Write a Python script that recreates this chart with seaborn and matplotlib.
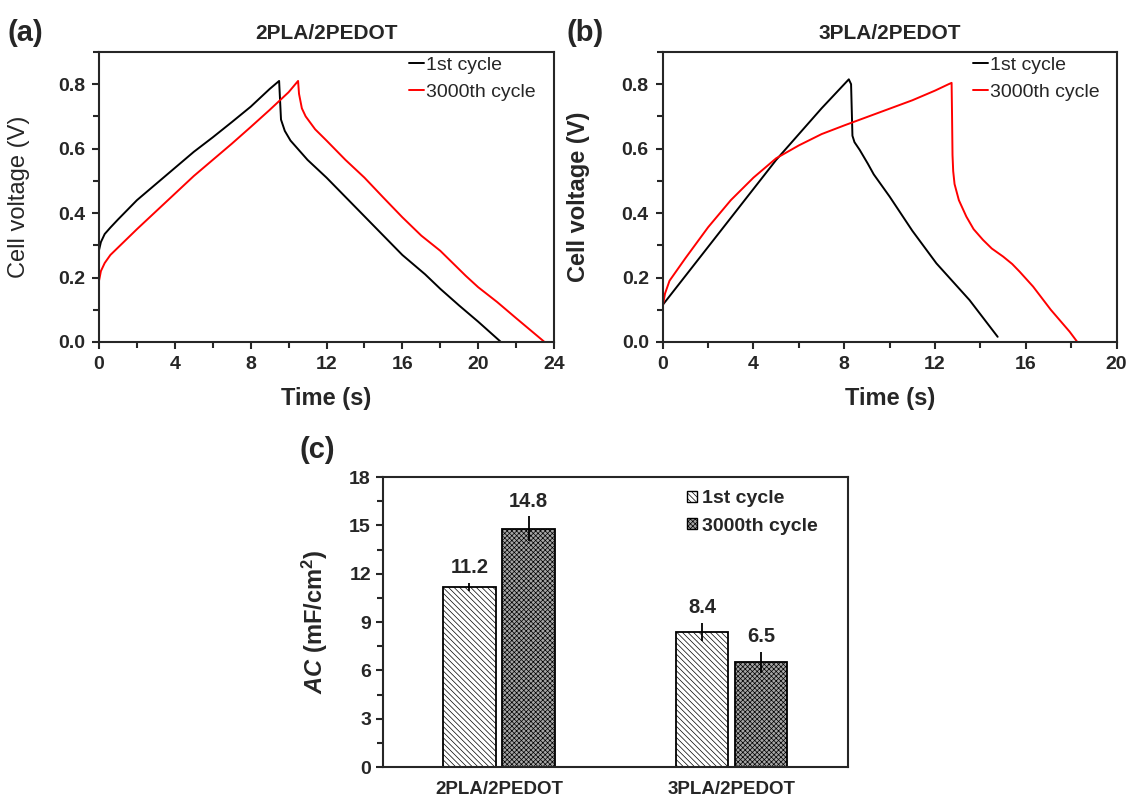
import matplotlib
matplotlib.use('Agg')
import matplotlib.pyplot as plt
import matplotlib.patches as mpatches
from matplotlib.ticker import MultipleLocator, FormatStrFormatter
import numpy as np
import pandas as pd
import seaborn as sns

# (a) 2PLA/2PEDOT  GCD curves
a_t_1st = [0, 0.1, 0.3, 0.6, 1, 2, 3, 4, 5, 6, 7, 8, 9, 9.5,
           9.55, 9.6, 9.8, 10.1, 11, 12, 13, 14, 15, 16, 17.2, 18, 19, 20, 21.2]
a_v_1st = [0.285, 0.31, 0.335, 0.355, 0.38, 0.44, 0.49, 0.54, 0.59, 0.635, 0.682, 0.73, 0.785, 0.81,
           0.75, 0.69, 0.655, 0.625, 0.565, 0.51, 0.45, 0.39, 0.33, 0.27, 0.21, 0.165, 0.113, 0.063, 0.0]
a_t_3000 = [0, 0.1, 0.3, 0.6, 1.3, 2, 3, 4, 5, 6, 7, 8, 9, 10, 10.5,
            10.55, 10.7, 10.9, 11.4, 12, 13, 14, 15, 16, 17, 18, 19.35, 20, 21, 22, 23.5]
a_v_3000 = [0.19, 0.22, 0.245, 0.27, 0.31, 0.35, 0.405, 0.46, 0.515, 0.565, 0.615, 0.667, 0.72, 0.775, 0.81,
            0.77, 0.725, 0.70, 0.66, 0.625, 0.565, 0.51, 0.448, 0.387, 0.33, 0.283, 0.205, 0.17, 0.124, 0.074, 0.0]

# (b) 3PLA/2PEDOT
b_t_1st = [0, 1, 2, 3, 4, 5, 6, 7, 8, 8.2,
           8.3, 8.36, 8.45, 8.68, 9.04, 9.3, 10.0, 11.0, 12.06, 13.52, 14.76]
b_v_1st = [0.115, 0.205, 0.295, 0.385, 0.475, 0.565, 0.645, 0.725, 0.80, 0.815,
           0.80, 0.64, 0.62, 0.596, 0.553, 0.52, 0.451, 0.345, 0.244, 0.130, 0.016]
b_t_3000 = [0, 0.1, 0.3, 1, 2, 3, 4, 5, 6, 7, 8, 9, 10, 11, 12, 12.6, 12.73,
            12.75, 12.77, 12.8, 12.86, 13.05, 13.38, 13.7, 14.11, 14.5, 15.0, 15.4, 15.73,
            16.32, 17.1, 17.93, 18.27]
b_v_3000 = [0.11, 0.15, 0.19, 0.26, 0.356, 0.44, 0.51, 0.57, 0.61, 0.645, 0.672, 0.698, 0.724, 0.75, 0.78,
            0.80, 0.804,
            0.70, 0.58, 0.53, 0.49, 0.44, 0.389, 0.35, 0.317, 0.29, 0.265, 0.242, 0.218,
            0.172, 0.10, 0.032, 0.0]

# (c) areal capacitance
groups = ['2PLA/2PEDOT', '3PLA/2PEDOT']
cycles = ['1st cycle', '3000th cycle']
ac_1st = [11.2, 8.4]
ac_3000 = [14.8, 6.5]
err_1st = [0.25, 0.55]
err_3000 = [0.75, 0.65]

sns.set_style('ticks')
plt.rcParams['font.family'] = ['Liberation Sans', 'DejaVu Sans']
plt.rcParams['mathtext.fontset'] = 'custom'
plt.rcParams['mathtext.rm'] = 'Liberation Sans:bold'
plt.rcParams['mathtext.bf'] = 'Liberation Sans:bold'
plt.rcParams['mathtext.it'] = 'Liberation Sans:italic:bold'
plt.rcParams['hatch.linewidth'] = 0.5
plt.rcParams['hatch.color'] = 'black'
plt.rcParams['axes.linewidth'] = 1.5

fig = plt.figure(figsize=(11.29, 7.99), dpi=100)
ax_a = fig.add_axes([0.0877, 0.572, 0.403, 0.363])
ax_b = fig.add_axes([0.587, 0.572, 0.402, 0.363])
ax_c = fig.add_axes([0.339, 0.040, 0.412, 0.363])

pal = {'1st cycle': 'black', '3000th cycle': '#ff0000'}


def gcd_panel(ax, t1, v1, t3, v3, title, xmax, ylab_bold, ylab_x, leg_x):
    df = pd.concat([
        pd.DataFrame({'t': t1, 'v': v1, 'cycle': '1st cycle'}),
        pd.DataFrame({'t': t3, 'v': v3, 'cycle': '3000th cycle'}),
    ])
    sns.lineplot(data=df, x='t', y='v', hue='cycle', palette=pal, sort=False,
                 estimator=None, linewidth=1.4, ax=ax)
    ax.set_xlim(0, xmax)
    ax.set_ylim(0, 0.9)
    ax.xaxis.set_major_locator(MultipleLocator(4))
    ax.xaxis.set_minor_locator(MultipleLocator(2))
    ax.set_yticks([0, 0.2, 0.4, 0.6, 0.8])
    ax.yaxis.set_minor_locator(MultipleLocator(0.1))
    ax.yaxis.set_major_formatter(FormatStrFormatter('%.1f'))
    ax.tick_params(which='both', direction='out', top=False, right=False, width=1.5)
    ax.tick_params(which='major', length=5, pad=5)
    ax.tick_params(which='minor', length=4)
    for lab in ax.get_xticklabels() + ax.get_yticklabels():
        lab.set_fontweight('bold')
        lab.set_fontsize(14)
    ax.set_xlabel('Time (s)', fontsize=17, fontweight='bold')
    ax.xaxis.set_label_coords(0.5, -0.155)
    ax.set_ylabel('Cell voltage (V)', fontsize=17,
                  fontweight='bold' if ylab_bold else 'normal')
    ax.yaxis.set_label_coords(ylab_x, 0.5)
    ax.set_title(title, fontsize=15, fontweight='bold', pad=9)
    h, l = ax.get_legend_handles_labels()
    ax.legend(h, l, loc='upper left', bbox_to_anchor=(leg_x, 0.985), frameon=False,
              handlelength=0.8, handletextpad=0.1, labelspacing=0.5, fontsize=14,
              borderpad=0, borderaxespad=0)


gcd_panel(ax_a, a_t_1st, a_v_1st, a_t_3000, a_v_3000, '2PLA/2PEDOT', 24, False, -0.152, 0.681)
gcd_panel(ax_b, b_t_1st, b_v_1st, b_t_3000, b_v_3000, '3PLA/2PEDOT', 20, True, -0.161, 0.683)

# (c) bar chart
dfc = pd.DataFrame({
    'group': groups * 2,
    'cycle': [cycles[0]] * 2 + [cycles[1]] * 2,
    'ac': ac_1st + ac_3000,
})
bar_face = {'1st cycle': 'white', '3000th cycle': '#a5a5a5'}
bar_hatch = {'1st cycle': '\\\\\\\\\\\\', '3000th cycle': 'xxxxxxx'}
errs = {'1st cycle': err_1st, '3000th cycle': err_3000}
vals = {'1st cycle': ac_1st, '3000th cycle': ac_3000}
sns.barplot(data=dfc, x='group', y='ac', hue='cycle', order=groups, hue_order=cycles,
            palette=bar_face, saturation=1, width=0.508, gap=0.11, errorbar=None,
            edgecolor='black', linewidth=1.3, legend=False, ax=ax_c)
for cont, cyc in zip(ax_c.containers, cycles):
    for bar, e, v in zip(cont, errs[cyc], vals[cyc]):
        bar.set_hatch(bar_hatch[cyc])
        bar.set_edgecolor('black')
        cx = bar.get_x() + bar.get_width() / 2
        ax_c.errorbar(cx, v, yerr=e, fmt='none', ecolor='black', elinewidth=1.3, capsize=0)
        ax_c.annotate(f'{v:.1f}', (cx, v + e), xytext=(0, 4), textcoords='offset points',
                      ha='center', va='bottom', fontsize=14.5, fontweight='bold',
                      family=['Liberation Sans Narrow', 'Liberation Sans'])
ax_c.set_xlim(-0.5, 1.5)
ax_c.set_ylim(0, 18)
ax_c.yaxis.set_major_locator(MultipleLocator(3))
ax_c.yaxis.set_minor_locator(MultipleLocator(1.5))
ax_c.tick_params(axis='y', which='both', direction='out', right=False, width=1.5)
ax_c.tick_params(axis='y', which='major', length=5)
ax_c.tick_params(axis='y', which='minor', length=4)
ax_c.tick_params(axis='x', length=0, pad=10)
for lab in ax_c.get_yticklabels():
    lab.set_fontweight('bold')
    lab.set_fontsize(14)
    lab.set_fontfamily(['Liberation Sans Narrow', 'Liberation Sans'])
for lab in ax_c.get_xticklabels():
    lab.set_fontweight('bold')
    lab.set_fontsize(13.5)
ax_c.set_xlabel('')
ax_c.set_ylabel(r'$\mathit{AC}$ (mF/cm$^{2}$)', fontsize=17, fontweight='bold')
ax_c.yaxis.set_label_coords(-0.114, 0.5)
leg_handles = [mpatches.Patch(facecolor=bar_face[c], edgecolor='black', hatch=bar_hatch[c],
                              linewidth=1.0, label=c) for c in cycles]
ax_c.legend(handles=leg_handles, loc='upper left', bbox_to_anchor=(0.655, 0.955), frameon=False,
            handlelength=0.5, handleheight=0.5, handletextpad=0.25, labelspacing=0.55,
            prop={'weight': 'bold', 'size': 14}, borderpad=0, borderaxespad=0)

# panel letters
fig.text(0.007, 0.959, '(a)', fontsize=21, fontweight='bold', va='center')
fig.text(0.502, 0.959, '(b)', fontsize=21, fontweight='bold', va='center')
fig.text(0.265, 0.437, '(c)', fontsize=21, fontweight='bold', va='center')

fig.savefig('out.png', dpi=100)
